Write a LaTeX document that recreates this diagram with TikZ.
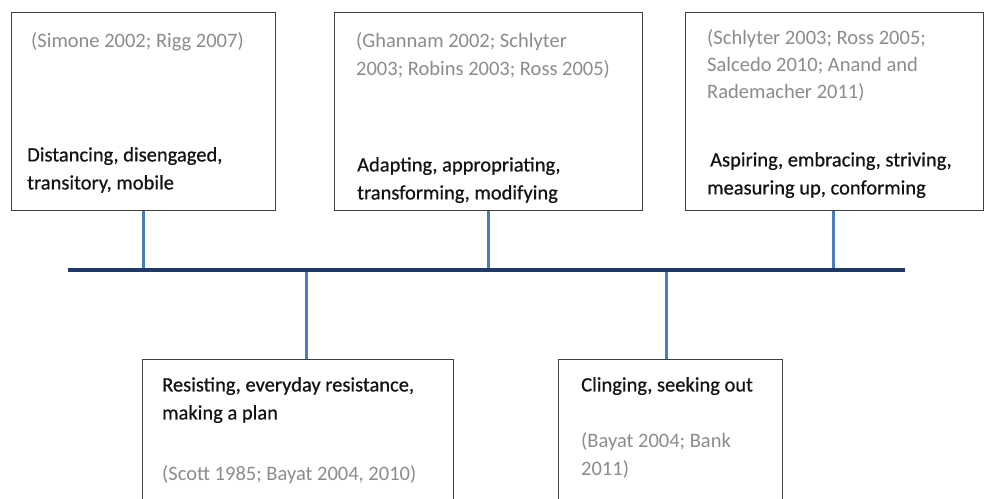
\documentclass[tikz,border=0pt]{standalone}
\usepackage{fontspec}
\setmainfont{Carlito}
\newfontfamily\themefont[FakeBold=0.6]{Carlito}
\usetikzlibrary{positioning}
\definecolor{axisblue}{HTML}{1F3864}
\definecolor{linkblue}{HTML}{4A7EBB}
\definecolor{citegray}{HTML}{8C8C8C}
\begin{document}
\begin{tikzpicture}[x=1pt, y=-1pt,
    box/.style={draw=black!75, line width=1.3pt, fill=white, anchor=north west, inner sep=0pt},
    cite/.style={anchor=north west, inner sep=0pt, align=left, text=citegray,
      font=\fontsize{20.5}{28}\selectfont},
    theme/.style={anchor=north west, inner sep=0pt, align=left, text=black!92,
      font=\themefont\fontsize{20.5}{28}\selectfont},
    link/.style={draw=linkblue, line width=3pt},
    axis/.style={draw=axisblue, line width=4.2pt}]
  \useasboundingbox (0,0) rectangle (985,498);
  \clip (0,0) rectangle (985,498);
  % boxes above the line
  \node[box, minimum width=264pt, minimum height=198pt] (distancing) at (11,12) {};
  \node[box, minimum width=308pt, minimum height=198pt] (adapting) at (334,12) {};
  \node[box, minimum width=298pt, minimum height=198pt] (aspiring) at (685,12) {};
  % boxes below the line
  \node[box, minimum width=311pt, minimum height=160pt] (resisting) at (142,359) {};
  \node[box, minimum width=224pt, minimum height=160pt] (clinging) at (558,359) {};
  % texts
  \node[cite] (distancingref) at (31,32) {(Simone 2002; Rigg 2007)};
  \node[theme] (distancingtxt) at (27,147) {Distancing, disengaged,\\transitory, mobile};
  \node[cite] (adaptingref) at (356,32) {(Ghannam 2002; Schlyter\\2003; Robins 2003; Ross 2005)};
  \node[theme] (adaptingtxt) at (357,157) {Adapting, appropriating,\\transforming, modifying};
  \node[cite, font=\fontsize{20.5}{27}\selectfont] (aspiringref) at (707,29)
    {(Schlyter 2003; Ross 2005;\\Salcedo 2010; Anand and\\Rademacher 2011)};
  \node[theme] (aspiringtxt) at (707,152)
    {\hspace*{3pt}Aspiring, embracing, striving,\\measuring up, conforming};
  \node[theme] (resistingtxt) at (162,377) {Resisting, everyday resistance,\\making a plan};
  \node[cite] (resistingref) at (162,465) {(Scott 1985; Bayat 2004, 2010)};
  \node[theme] (clingingtxt) at (581,377) {Clinging, seeking out};
  \node[cite] (clingingref) at (581,432) {(Bayat 2004; Bank\\2011)};
  % the line and its links
  \coordinate (start) at (68,270);
  \coordinate (stop) at (905,270);
  \coordinate (resistinglink) at (306,270);
  \coordinate (clinginglink) at (666,270);
  \draw[link] (distancing.south) -- (distancing.south |- start);
  \draw[link] (adapting.south) -- (adapting.south |- start);
  \draw[link] (aspiring.south -| 833,0) -- (833,270);
  \draw[link] (resistinglink) -- (resistinglink |- resisting.north);
  \draw[link] (clinginglink) -- (clinginglink |- clinging.north);
  \draw[axis] (start) -- (stop);
\end{tikzpicture}
\end{document}
